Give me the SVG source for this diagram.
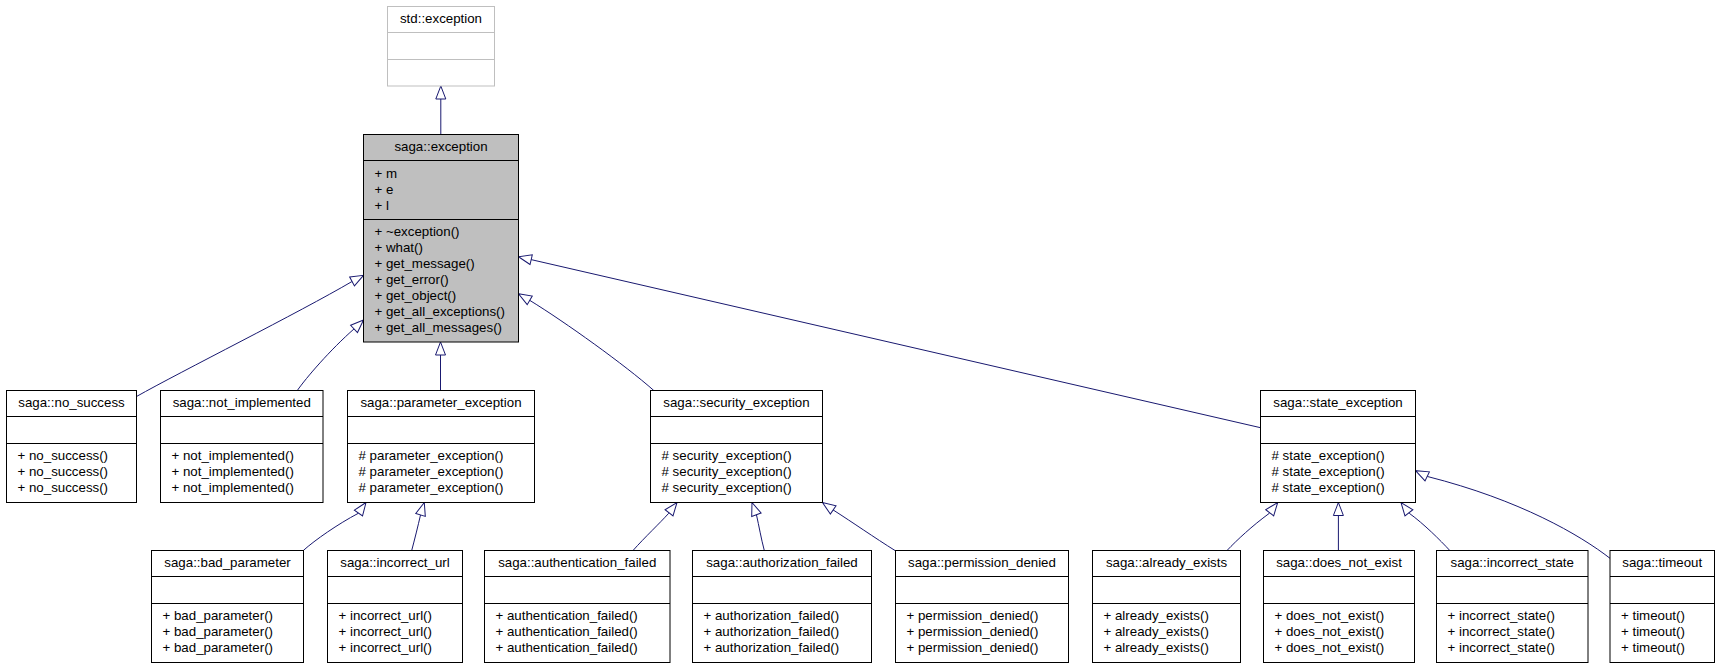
<svg xmlns="http://www.w3.org/2000/svg" width="1719" height="667" viewBox="0 0 1719 667">
<style>
.box{fill:#fff;stroke:#000;stroke-width:1}
.gray{fill:#bfbfbf}
.ext{stroke:#bfbfbf}
.sep{stroke:#000;stroke-width:1}
.sepg{stroke:#bfbfbf;stroke-width:1}
text{font-family:"Liberation Sans",Arial,Helvetica,sans-serif;font-size:13.3px;fill:#000}
.c{text-anchor:middle}
.edge{fill:none;stroke:#191970;stroke-width:1;marker-end:url(#arr)}
</style>
<defs>
<marker id="arr" markerUnits="userSpaceOnUse" markerWidth="16" markerHeight="14" viewBox="-1 -7 16 14" refX="13" refY="0" orient="auto">
<path d="M0,-5 L13,0 L0,5 Z" fill="#fff" stroke="#191970" stroke-width="1"/>
</marker>
</defs>
<rect width="1719" height="667" fill="#fff"/>
<g id="connectors">
<path class="edge" d="M440.8,134.5 L440.8,86"/>
<path class="edge" d="M136.5,396.5 C180,372 300,312 351.7,281.7 L363.5,275.3"/>
<path class="edge" d="M297.3,390.5 C306,378 330,350 354.5,328.5 L363.5,320"/>
<path class="edge" d="M440.5,390.5 L440.5,342"/>
<path class="edge" d="M653.8,390.5 C625,365 565,322 530,300.5 L518.5,293.8"/>
<path class="edge" d="M1260.5,427.7 L518.5,256.7"/>
<path class="edge" d="M303.3,550.5 C315,540 338,524 358.3,513.3 L366,502.5"/>
<path class="edge" d="M411.7,550.5 C414.5,540 418,526 420.5,515 L424.3,502.5"/>
<path class="edge" d="M633,550.5 C645,537 660,523 668.5,513.5 L677,502.5"/>
<path class="edge" d="M764.3,550.5 C761,538 759,526 756.5,515 L752,502.5"/>
<path class="edge" d="M895,550.5 C875,538 852,522 834,510.5 L822.5,502.5"/>
<path class="edge" d="M1227,550.5 C1237,540 1252,526 1269.3,513.3 L1277.7,502.5"/>
<path class="edge" d="M1338.4,550.5 L1338.4,502.5"/>
<path class="edge" d="M1449.8,550.5 C1440,540 1424,524 1409.3,513.3 L1401,502.5"/>
<path class="edge" d="M1610,558.3 C1580,535 1520,500 1427.5,476.5 L1415.5,470.7"/>
</g>
<g id="std_exception">
<rect class="box ext" x="387.5" y="6.5" width="107" height="79.5"/>
<line class="sepg" x1="387.5" y1="32.5" x2="494.5" y2="32.5"/>
<line class="sepg" x1="387.5" y1="59.5" x2="494.5" y2="59.5"/>
<text class="c" x="441" y="22.5">std::exception</text>
</g>
<g id="saga_exception">
<rect class="box gray" x="363.5" y="134.5" width="155" height="207.5"/>
<line class="sep" x1="363.5" y1="160.5" x2="518.5" y2="160.5"/>
<line class="sep" x1="363.5" y1="219.5" x2="518.5" y2="219.5"/>
<text class="c" x="441" y="150.5">saga::exception</text>
<text x="374.5" y="177.5">+ m</text>
<text x="374.5" y="193.5">+ e</text>
<text x="374.5" y="209.5">+ l</text>
<text x="374.5" y="236">+ ~exception()</text>
<text x="374.5" y="252">+ what()</text>
<text x="374.5" y="268">+ get_message()</text>
<text x="374.5" y="284">+ get_error()</text>
<text x="374.5" y="300">+ get_object()</text>
<text x="374.5" y="316">+ get_all_exceptions()</text>
<text x="374.5" y="332">+ get_all_messages()</text>
</g>
<g id="no_success">
<rect class="box" x="6.5" y="390.5" width="130" height="112"/>
<line class="sep" x1="6.5" y1="416.5" x2="136.5" y2="416.5"/>
<line class="sep" x1="6.5" y1="443.5" x2="136.5" y2="443.5"/>
<text class="c" x="71.5" y="406.5">saga::no_success</text>
<text x="17.5" y="460">+ no_success()</text>
<text x="17.5" y="476">+ no_success()</text>
<text x="17.5" y="492">+ no_success()</text>
</g>
<g id="not_implemented">
<rect class="box" x="160.5" y="390.5" width="162.5" height="112"/>
<line class="sep" x1="160.5" y1="416.5" x2="323" y2="416.5"/>
<line class="sep" x1="160.5" y1="443.5" x2="323" y2="443.5"/>
<text class="c" x="241.75" y="406.5">saga::not_implemented</text>
<text x="171.5" y="460">+ not_implemented()</text>
<text x="171.5" y="476">+ not_implemented()</text>
<text x="171.5" y="492">+ not_implemented()</text>
</g>
<g id="parameter_exception">
<rect class="box" x="347.5" y="390.5" width="187" height="112"/>
<line class="sep" x1="347.5" y1="416.5" x2="534.5" y2="416.5"/>
<line class="sep" x1="347.5" y1="443.5" x2="534.5" y2="443.5"/>
<text class="c" x="441" y="406.5">saga::parameter_exception</text>
<text x="358.5" y="460"># parameter_exception()</text>
<text x="358.5" y="476"># parameter_exception()</text>
<text x="358.5" y="492"># parameter_exception()</text>
</g>
<g id="security_exception">
<rect class="box" x="650.5" y="390.5" width="172" height="112"/>
<line class="sep" x1="650.5" y1="416.5" x2="822.5" y2="416.5"/>
<line class="sep" x1="650.5" y1="443.5" x2="822.5" y2="443.5"/>
<text class="c" x="736.5" y="406.5">saga::security_exception</text>
<text x="661.5" y="460"># security_exception()</text>
<text x="661.5" y="476"># security_exception()</text>
<text x="661.5" y="492"># security_exception()</text>
</g>
<g id="state_exception">
<rect class="box" x="1260.5" y="390.5" width="155" height="112"/>
<line class="sep" x1="1260.5" y1="416.5" x2="1415.5" y2="416.5"/>
<line class="sep" x1="1260.5" y1="443.5" x2="1415.5" y2="443.5"/>
<text class="c" x="1338" y="406.5">saga::state_exception</text>
<text x="1271.5" y="460"># state_exception()</text>
<text x="1271.5" y="476"># state_exception()</text>
<text x="1271.5" y="492"># state_exception()</text>
</g>
<g id="bad_parameter">
<rect class="box" x="151.5" y="550.5" width="152" height="112"/>
<line class="sep" x1="151.5" y1="576.5" x2="303.5" y2="576.5"/>
<line class="sep" x1="151.5" y1="603.5" x2="303.5" y2="603.5"/>
<text class="c" x="227.5" y="566.5">saga::bad_parameter</text>
<text x="162.5" y="620">+ bad_parameter()</text>
<text x="162.5" y="636">+ bad_parameter()</text>
<text x="162.5" y="652">+ bad_parameter()</text>
</g>
<g id="incorrect_url">
<rect class="box" x="327.5" y="550.5" width="135" height="112"/>
<line class="sep" x1="327.5" y1="576.5" x2="462.5" y2="576.5"/>
<line class="sep" x1="327.5" y1="603.5" x2="462.5" y2="603.5"/>
<text class="c" x="395" y="566.5">saga::incorrect_url</text>
<text x="338.5" y="620">+ incorrect_url()</text>
<text x="338.5" y="636">+ incorrect_url()</text>
<text x="338.5" y="652">+ incorrect_url()</text>
</g>
<g id="authentication_failed">
<rect class="box" x="484.5" y="550.5" width="185.5" height="112"/>
<line class="sep" x1="484.5" y1="576.5" x2="670" y2="576.5"/>
<line class="sep" x1="484.5" y1="603.5" x2="670" y2="603.5"/>
<text class="c" x="577.25" y="566.5">saga::authentication_failed</text>
<text x="495.5" y="620">+ authentication_failed()</text>
<text x="495.5" y="636">+ authentication_failed()</text>
<text x="495.5" y="652">+ authentication_failed()</text>
</g>
<g id="authorization_failed">
<rect class="box" x="692.5" y="550.5" width="179" height="112"/>
<line class="sep" x1="692.5" y1="576.5" x2="871.5" y2="576.5"/>
<line class="sep" x1="692.5" y1="603.5" x2="871.5" y2="603.5"/>
<text class="c" x="782" y="566.5">saga::authorization_failed</text>
<text x="703.5" y="620">+ authorization_failed()</text>
<text x="703.5" y="636">+ authorization_failed()</text>
<text x="703.5" y="652">+ authorization_failed()</text>
</g>
<g id="permission_denied">
<rect class="box" x="895.5" y="550.5" width="173" height="112"/>
<line class="sep" x1="895.5" y1="576.5" x2="1068.5" y2="576.5"/>
<line class="sep" x1="895.5" y1="603.5" x2="1068.5" y2="603.5"/>
<text class="c" x="982" y="566.5">saga::permission_denied</text>
<text x="906.5" y="620">+ permission_denied()</text>
<text x="906.5" y="636">+ permission_denied()</text>
<text x="906.5" y="652">+ permission_denied()</text>
</g>
<g id="already_exists">
<rect class="box" x="1092.5" y="550.5" width="148" height="112"/>
<line class="sep" x1="1092.5" y1="576.5" x2="1240.5" y2="576.5"/>
<line class="sep" x1="1092.5" y1="603.5" x2="1240.5" y2="603.5"/>
<text class="c" x="1166.5" y="566.5">saga::already_exists</text>
<text x="1103.5" y="620">+ already_exists()</text>
<text x="1103.5" y="636">+ already_exists()</text>
<text x="1103.5" y="652">+ already_exists()</text>
</g>
<g id="does_not_exist">
<rect class="box" x="1263.5" y="550.5" width="151" height="112"/>
<line class="sep" x1="1263.5" y1="576.5" x2="1414.5" y2="576.5"/>
<line class="sep" x1="1263.5" y1="603.5" x2="1414.5" y2="603.5"/>
<text class="c" x="1339" y="566.5">saga::does_not_exist</text>
<text x="1274.5" y="620">+ does_not_exist()</text>
<text x="1274.5" y="636">+ does_not_exist()</text>
<text x="1274.5" y="652">+ does_not_exist()</text>
</g>
<g id="incorrect_state">
<rect class="box" x="1436.5" y="550.5" width="151.5" height="112"/>
<line class="sep" x1="1436.5" y1="576.5" x2="1588" y2="576.5"/>
<line class="sep" x1="1436.5" y1="603.5" x2="1588" y2="603.5"/>
<text class="c" x="1512.25" y="566.5">saga::incorrect_state</text>
<text x="1447.5" y="620">+ incorrect_state()</text>
<text x="1447.5" y="636">+ incorrect_state()</text>
<text x="1447.5" y="652">+ incorrect_state()</text>
</g>
<g id="timeout">
<rect class="box" x="1610" y="550.5" width="104.5" height="112"/>
<line class="sep" x1="1610" y1="576.5" x2="1714.5" y2="576.5"/>
<line class="sep" x1="1610" y1="603.5" x2="1714.5" y2="603.5"/>
<text class="c" x="1662.25" y="566.5">saga::timeout</text>
<text x="1621" y="620">+ timeout()</text>
<text x="1621" y="636">+ timeout()</text>
<text x="1621" y="652">+ timeout()</text>
</g>
</svg>
